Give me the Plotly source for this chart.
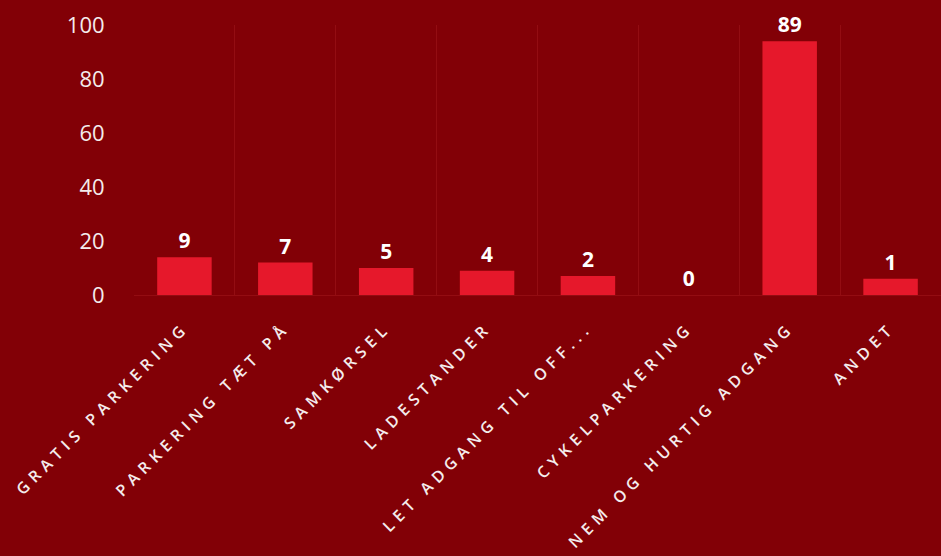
import plotly.graph_objects as go

categories = ["GRATIS PARKERING", "PARKERING TÆT PÅ", "SAMKØRSEL", "LADESTANDER",
              "LET ADGANG TIL OFF...", "CYKELPARKERING", "NEM OG HURTIG ADGANG", "ANDET"]
shown_values = [9, 7, 5, 4, 2, 0, 89, 1]
bar_heights = [14, 12, 10, 9, 7, 0, 94, 6]
y_ticks = [0, 20, 40, 60, 80, 100]

BG = "#820006"
BAR = "#e6182b"
GRID = "#930d12"
TXT = "#f4ecec"

fig = go.Figure()
fig.add_trace(go.Bar(
    x=categories, y=bar_heights,
    text=[str(v) for v in shown_values],
    textposition="outside",
    textfont=dict(family="Open Sans", size=21, color="white", weight=700),
    cliponaxis=False,
    marker=dict(color=BAR, line=dict(width=0)),
    width=0.54,
    hoverinfo="skip",
))

fig.update_layout(
    width=941, height=556,
    margin=dict(l=134, r=0, t=25, b=261),
    paper_bgcolor=BG, plot_bgcolor=BG,
    showlegend=False,
    font=dict(family="Open Sans", color=TXT),
)
fig.update_xaxes(
    type="category",
    tickson="boundaries",
    showgrid=True, gridcolor=GRID, gridwidth=1,
    tickangle=-45,
    tickfont=dict(family="Open Sans", size=16, color=TXT),
    ticks="", ticklabelstandoff=16,
    showline=True, linecolor=GRID, linewidth=1,
    fixedrange=True,
)
fig.update_yaxes(
    range=[0, 100],
    tickvals=y_ticks,
    showgrid=False, zeroline=False,
    tickfont=dict(family="Open Sans", size=22, color=TXT),
    ticks="outside", ticklen=24, tickcolor="rgba(0,0,0,0)",
    fixedrange=True,
)

post = """
document.body.style.margin='0';
document.body.style.background='%s';
var gd = document.getElementsByClassName('plotly-graph-div')[0];
function sp(){
  gd.querySelectorAll('.xtick text').forEach(function(t){ t.style.letterSpacing='5.5px'; t.style.fontWeight='600'; });
}
sp();
gd.on('plotly_afterplot', sp);
""" % BG
fig.write_html("out.html", config={"displayModeBar": False}, post_script=post)
